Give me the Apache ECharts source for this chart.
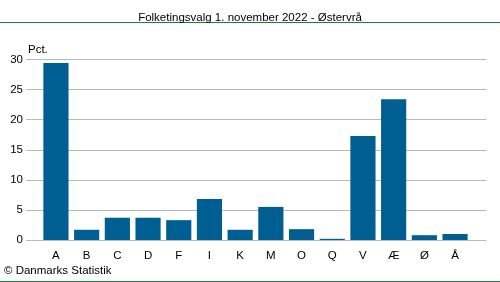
<!DOCTYPE html>
<html><head><meta charset="utf-8">
<script src="https://cdn.jsdelivr.net/npm/echarts@6/dist/echarts.min.js"></script>
<style>html,body{margin:0;padding:0;background:#fff}#c{width:500px;height:282px}</style>
</head><body><div id="c"></div>
<script>
const categories = ['A','B','C','D','F','I','K','M','O','Q','V','Æ','Ø','Å'];
const values = [29.4,1.7,3.7,3.7,3.3,6.8,1.7,5.5,1.8,0.2,17.3,23.4,0.8,1.0];
const yTicks = [0,5,10,15,20,25,30];
const titleText = 'Folketingsvalg 1. november 2022 - Østervrå';
const unitText = 'Pct.';
const sourceText = '© Danmarks Statistik';

const chart = echarts.init(document.getElementById('c'), null, {renderer:'canvas'});
const font = 'Liberation Sans, Arial, sans-serif';
const gridTop = 59.5, gridBottom = 42;
chart.setOption({
  animation:false,
  textStyle:{fontFamily:font},
  title:{text:titleText,left:'center',top:7,textStyle:{fontSize:11.5,fontWeight:'normal',color:'#000',fontFamily:font}},
  graphic:[
    {type:'line',shape:{x1:0,y1:22.5,x2:500,y2:22.5},style:{stroke:'#1a8040',lineWidth:1}},
    {type:'line',shape:{x1:0,y1:281.5,x2:500,y2:281.5},style:{stroke:'#1a8040',lineWidth:1}},
    {type:'text',left:28,top:44,style:{text:unitText,fontSize:11.5,fill:'#000',fontFamily:font}},
    {type:'text',left:4,top:265,style:{text:sourceText,fontSize:11.5,fill:'#000',fontFamily:font}}
  ],
  grid:[
    {left:26,right:13.5,top:gridTop,bottom:gridBottom,containLabel:false},
    {left:40.6,right:29.6,top:gridTop,bottom:gridBottom,containLabel:false}
  ],
  xAxis:[
    {type:'value',gridIndex:0,show:false,min:0,max:1},
    {type:'category',gridIndex:1,data:categories,
      axisLine:{show:false},
      axisTick:{show:false},
      axisLabel:{fontSize:11.5,color:'#000',margin:10,fontFamily:font}}
  ],
  yAxis:[
    {type:'value',gridIndex:0,min:0,max:30,interval:5,
      axisLine:{show:false},axisTick:{show:false},
      splitLine:{lineStyle:{color:'#b8b8c4',width:1}},
      axisLabel:{fontSize:11.5,color:'#000',margin:3,fontFamily:font,
        formatter:v=>yTicks.includes(v)?String(v):''}},
    {type:'value',gridIndex:1,min:0,max:30,interval:5,show:false,splitLine:{show:false}}
  ],
  series:[{type:'bar',xAxisIndex:1,yAxisIndex:1,data:values,barCategoryGap:'18%',itemStyle:{color:'#005f92'}}]
});
</script></body></html>
